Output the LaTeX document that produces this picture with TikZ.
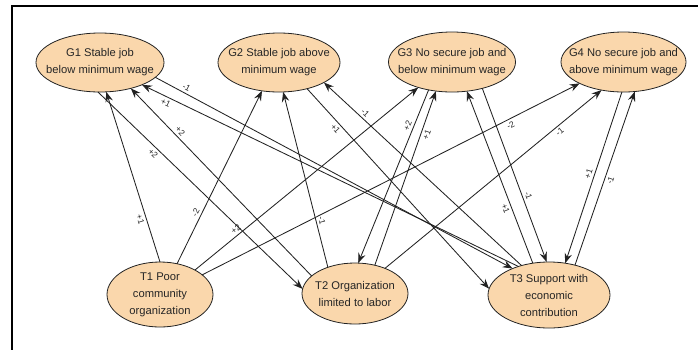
\documentclass[tikz,border=0pt]{standalone}
\usepackage{fontspec}
\setmainfont{Liberation Sans}
\usetikzlibrary{arrows.meta,shapes.geometric}
\definecolor{nodefill}{HTML}{FAD7AC}
\definecolor{linecol}{HTML}{222222}
\definecolor{textcol}{HTML}{262626}
\tikzset{
  ell/.style={ellipse, draw=linecol, fill=nodefill, line width=0.8pt, inner sep=0pt, outer sep=0pt},
  txt/.style={align=center, font=\fontsize{11.2}{17}\selectfont, text=textcol, inner sep=0pt},
  conn/.style={draw=linecol, line width=0.85pt, -{Stealth[length=10pt,width=7.5pt,inset=3.5pt]}},
  lab/.style={font=\fontsize{8.5}{9}\selectfont, sloped, inner sep=2.5pt, text=textcol},
}
\begin{document}
\begin{tikzpicture}[x=1pt,y=-1pt]
\useasboundingbox (0,0) rectangle (698,349);
\draw[line width=2pt, black] (12,350) -- (12,6) -- (699,6);

% goal nodes
\node[ell, minimum width=128pt, minimum height=59pt] (G1) at (100,62.5) {};
\node[ell, minimum width=122pt, minimum height=59pt] (G2) at (279,62.5) {};
\node[ell, minimum width=127pt, minimum height=60pt] (G3) at (452,62) {};
\node[ell, minimum width=125pt, minimum height=60pt] (G4) at (623.5,62) {};
% T nodes
\node[ell, minimum width=106pt, minimum height=65pt] (T1) at (160,294.5) {};
\node[ell, minimum width=106pt, minimum height=61pt] (T2) at (355,293.5) {};
\node[ell, minimum width=122pt, minimum height=66pt] (T3) at (549,295) {};

\node[txt] (G1t) at (G1) {G1 Stable job\\below minimum wage};
\node[txt] (G2t) at (G2) {G2 Stable job above\\minimum wage};
\node[txt] (G3t) at (G3) {G3 No secure job and\\below minimum wage};
\node[txt] (G4t) at (G4) {G4 No secure job and\\above minimum wage};
\node[txt] (T1t) at (T1) {T1 Poor\\community\\organization};
\node[txt] (T2t) at (T2) {T2 Organization\\limited to labor};
\node[txt] (T3t) at (T3) {T3 Support with\\economic\\contribution};

% connectors
\draw[conn] (T1.90) -- (G1.-78) node[lab, below, pos=0.26] {+1};
\draw[conn] (G1.-94) -- (T2.175) node[lab, below, pos=0.29] {+2};
\draw[conn] (T2.158) -- (G1.-40) node[lab, above, pos=0.75] {+2};
\draw[conn] (T3.137) -- (G1.-28) node[lab, below, pos=0.93] {+1};
\draw[conn] (G1.-15) -- (T3.144) node[lab, above, pos=0.08] {-1};
\draw[conn] (T1.61) -- (G2.-121) node[lab, above, pos=0.28] {-2};
\draw[conn] (T1.35) -- (G3.-143) node[lab, above, pos=0.2] {+2};
\draw[conn] (T1.25) -- (G4.-154) node[lab, below, pos=0.81] {-2};
\draw[conn] (T2.136) -- (G2.-82) node[lab, above, pos=0.26] {-1};
\draw[conn] (T3.133) -- (G2.-24) node[lab, above, pos=0.81] {-1};
\draw[conn] (G2.-43) -- (T3.174) node[lab, below, pos=0.18] {+1};
\draw[conn] (G3.-130) -- (T2.84) node[lab, above, pos=0.22] {+2};
\draw[conn] (T2.55) -- (G3.-119) node[lab, below, pos=0.76] {+1};
\draw[conn] (T2.40) -- (G4.-128) node[lab, below, pos=0.79] {-1};
\draw[conn] (T3.117) -- (G3.-63) node[lab, below, pos=0.33] {+1};
\draw[conn] (G3.-41) -- (T3.94) node[lab, above, pos=0.63] {-1};
\draw[conn] (G4.-93) -- (T3.63) node[lab, above, pos=0.49] {+1};
\draw[conn] (T3.49) -- (G4.-69) node[lab, below, pos=0.5] {-1};
\end{tikzpicture}
\end{document}
